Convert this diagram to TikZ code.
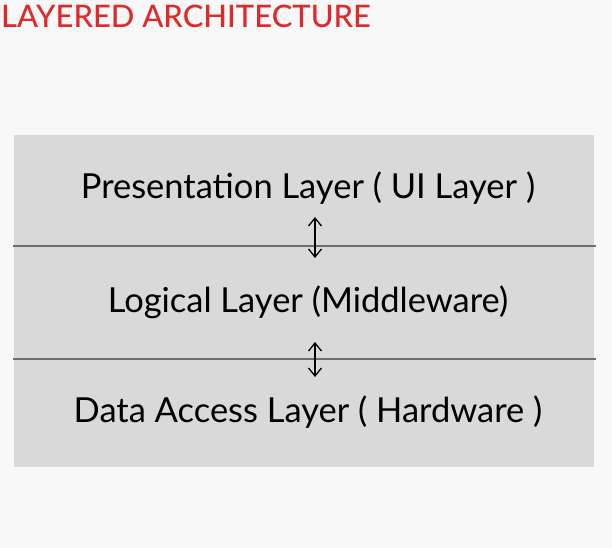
\documentclass[tikz,border=0pt]{standalone}
\usepackage{fontspec}
\setmainfont{Lato}
\newfontfamily\TitleFont{Lato Medium}
\usepackage{tikz}
\usetikzlibrary{arrows,arrows.meta}
\definecolor{TitleRed}{HTML}{E02A2A}
\definecolor{LayerGray}{HTML}{D9D9D9}
\definecolor{LineGray}{HTML}{6E6E6E}
\definecolor{PageGray}{HTML}{F8F8F8}

\begin{document}
\begin{tikzpicture}[x=1bp,y=-1bp]
  \tikzstyle{LayerText}=[font=\fontsize{34.6}{40}\selectfont,text=black,inner sep=0pt,anchor=base]
  \tikzstyle{Divider}=[draw=LineGray,line width=1.3bp]
  \tikzstyle{Link}=[{Straight Barb[length=8bp,width=13bp]}-{Straight Barb[length=8bp,width=13bp]},line width=1.3bp,black]
  \fill[PageGray] (0,0) rectangle (612,548);
  \useasboundingbox (0,0) rectangle (612,548);
  \node[anchor=base west,inner sep=0pt,text=TitleRed,font=\TitleFont\fontsize{31.1}{36}\selectfont] (Title) at (1,28) {LAYERED ARCHITECTURE};
  % layers
  \fill[LayerGray] (14,135) rectangle (594,467);
  \draw[Divider] (13,246) -- (596,246);
  \draw[Divider] (13,359) -- (596,359);
  \node[LayerText] (PresLayer) at (308,199) {Presentation Layer ( UI Layer )};
  \node[LayerText] (LogicLayer) at (308,312) {Logical Layer (Middleware)};
  \node[LayerText] (DataLayer) at (308,422) {Data Access Layer ( Hardware )};
  % links between layers
  \coordinate (PresLink) at (315,217);
  \coordinate (LogicLinkTop) at (315,258);
  \coordinate (LogicLink) at (315,342);
  \coordinate (DataLinkTop) at (315,377);
  \draw[Link] (PresLink) -- (LogicLinkTop);
  \draw[Link] (LogicLink) -- (DataLinkTop);
\end{tikzpicture}
\end{document}
